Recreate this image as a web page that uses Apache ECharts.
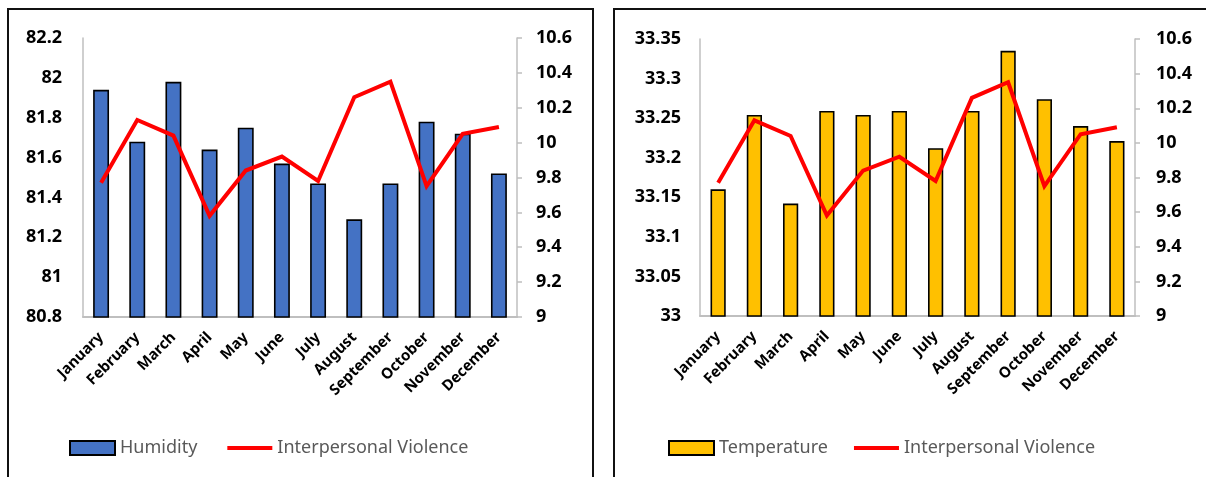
<!DOCTYPE html>
<html>
<head>
<meta charset="utf-8">
<script src="https://cdn.jsdelivr.net/npm/echarts@6/dist/echarts.min.js"></script>
<style>
  html, body { margin: 0; padding: 0; background: #ffffff; }
  #chart { width: 1206px; height: 477px; }
</style>
</head>
<body>
<div id="chart"></div>
<script>
// Monthly categories shared by both panels
const months = ['January', 'February', 'March', 'April', 'May', 'June',
  'July', 'August', 'September', 'October', 'November', 'December'];

// Average humidity per month (left panel, bars)
const humidity = [81.94, 81.68, 81.98, 81.64, 81.75, 81.57, 81.47, 81.29, 81.47, 81.78, 81.72, 81.52];

// Average temperature per month (right panel, bars)
const temperature = [33.160, 33.254, 33.142, 33.259, 33.254, 33.259, 33.212, 33.259, 33.335, 33.274, 33.240, 33.221];

// Interpersonal violence rate per month (both panels, line)
const violence = [9.77, 10.13, 10.04, 9.58, 9.84, 9.92, 9.78, 10.26, 10.35, 9.75, 10.05, 10.09];

// Axis ranges
const humidityAxis = { min: 80.8, max: 82.2, interval: 0.2 };
const temperatureAxis = { min: 33, max: 33.35, interval: 0.05 };
const violenceAxis = { min: 9, max: 10.6, interval: 0.2 };

const FONT = '"Noto Sans", "Liberation Sans", sans-serif';
const AXIS_GRAY = '#BFBFBF';

function tidy(v) {
  return String(Math.round(v * 1000) / 1000);
}

function valueAxis(gridIndex, range, side, margin, ticks) {
  return {
    type: 'value',
    gridIndex: gridIndex,
    position: side,
    min: range.min,
    max: range.max,
    interval: range.interval,
    splitLine: { show: false },
    axisLine: { show: true, lineStyle: { color: AXIS_GRAY, width: 1.5 } },
    axisTick: { show: ticks, length: 5, inside: false, lineStyle: { color: AXIS_GRAY, width: 1.5 } },
    axisLabel: {
      margin: margin,
      color: '#000000',
      fontFamily: FONT,
      fontWeight: 'bold',
      fontSize: 18,
      formatter: tidy
    }
  };
}

function categoryAxis(gridIndex) {
  return {
    type: 'category',
    gridIndex: gridIndex,
    data: months,
    axisLine: { show: true, lineStyle: { color: AXIS_GRAY, width: 2 } },
    axisTick: { show: false },
    axisLabel: {
      interval: 0,
      rotate: 45,
      margin: 18,
      color: '#000000',
      fontFamily: FONT,
      fontWeight: 'bold',
      fontSize: 15
    }
  };
}

const barBorder = { borderColor: '#000000', borderWidth: 1.6 };

// legend entry for a bar: plain rectangle
function barEntry(name) {
  return { name: name, icon: 'rect' };
}

// legend entry for a line: thick red stroke, no marker
function lineEntry(name) {
  return { name: name, itemStyle: { opacity: 0 }, lineStyle: { width: 4 } };
}

const legendText = { color: '#595959', fontFamily: FONT, fontSize: 18 };

const option = {
  animation: false,
  backgroundColor: '#ffffff',
  grid: [
    { left: 83, top: 38, width: 434, height: 279 },
    { left: 700, top: 39, width: 435, height: 277 }
  ],
  xAxis: [categoryAxis(0), categoryAxis(1)],
  yAxis: [
    valueAxis(0, humidityAxis, 'left', 21, false),
    valueAxis(0, violenceAxis, 'right', 19, true),
    valueAxis(1, temperatureAxis, 'left', 19, false),
    valueAxis(1, violenceAxis, 'right', 21, true)
  ],
  legend: [
    {
      left: 64, top: 434,
      itemWidth: 45, itemHeight: 14, itemGap: 28,
      textStyle: legendText,
      lineStyle: { width: 4 },
      data: [barEntry('Humidity'), lineEntry('Interpersonal Violence ')]
    },
    {
      left: 663, top: 434,
      itemWidth: 45, itemHeight: 14, itemGap: 24,
      textStyle: legendText,
      lineStyle: { width: 4 },
      data: [barEntry('Temperature'), lineEntry('Interpersonal Violence')]
    }
  ],
  series: [
    {
      name: 'Humidity', type: 'bar', xAxisIndex: 0, yAxisIndex: 0,
      data: humidity, barWidth: '44%',
      itemStyle: Object.assign({ color: '#4472C4' }, barBorder)
    },
    {
      // trailing space keeps this legend entry separate from the right panel's
      name: 'Interpersonal Violence ', type: 'line', xAxisIndex: 0, yAxisIndex: 1,
      data: violence, symbol: 'none', smooth: false,
      itemStyle: { color: '#FF0000' },
      lineStyle: { color: '#FF0000', width: 4, join: 'miter' }
    },
    {
      name: 'Temperature', type: 'bar', xAxisIndex: 1, yAxisIndex: 2,
      data: temperature, barWidth: '42%',
      itemStyle: Object.assign({ color: '#FFC000' }, barBorder)
    },
    {
      name: 'Interpersonal Violence', type: 'line', xAxisIndex: 1, yAxisIndex: 3,
      data: violence, symbol: 'none', smooth: false,
      itemStyle: { color: '#FF0000' },
      lineStyle: { color: '#FF0000', width: 4, join: 'miter' }
    }
  ],
  graphic: [
    // panel frames
    {
      type: 'rect', silent: true, z: -1,
      shape: { x: 8, y: 9, width: 585, height: 480 },
      style: { fill: 'none', stroke: '#111111', lineWidth: 2 }
    },
    {
      type: 'rect', silent: true, z: -1,
      shape: { x: 614, y: 9, width: 600, height: 480 },
      style: { fill: 'none', stroke: '#111111', lineWidth: 2 }
    }
  ]
};

const chart = echarts.init(document.getElementById('chart'), null, { renderer: 'canvas' });
chart.setOption(option);
</script>
</body>
</html>
